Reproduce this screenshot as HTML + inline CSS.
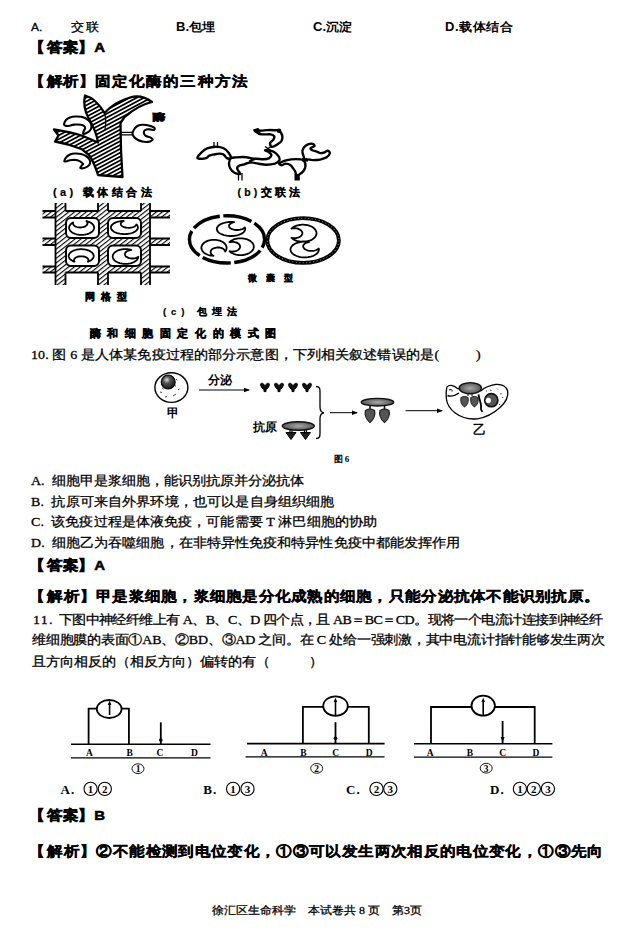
<!DOCTYPE html>
<html><head><meta charset="utf-8">
<style>
html,body{margin:0;padding:0;background:#fff;}
body{width:643px;height:948px;position:relative;overflow:hidden;}
.t{position:absolute;white-space:pre;line-height:1;font-family:"Liberation Serif",serif;color:#000;font-size:14px;-webkit-text-stroke:0.3px #000;transform:scaleY(0.92);transform-origin:0 0;}
.s{font-family:"Liberation Sans",sans-serif;}
.b{font-weight:bold;-webkit-text-stroke:0.35px #000;}
.lb{margin-left:-2px;margin-right:2px;}
svg{position:absolute;left:0;top:0;}
</style></head><body>
<div class="t s" style="left:31px;top:21.5px;font-size:12px;">A.</div>
<div class="t" style="left:71px;top:20.5px;font-size:13px;letter-spacing:1.5px;">交联</div>
<div class="t s" style="left:176px;top:20.5px;font-size:13px;font-weight:bold;-webkit-text-stroke:0;">B.包埋</div>
<div class="t s" style="left:313px;top:20.5px;font-size:13px;font-weight:bold;-webkit-text-stroke:0;">C.沉淀</div>
<div class="t s" style="left:445px;top:20.5px;font-size:13px;letter-spacing:0.6px;font-weight:bold;-webkit-text-stroke:0;">D.载体结合</div>

<div class="t s b" style="left:31px;top:40px;font-size:15px;letter-spacing:0.8px;-webkit-text-stroke:0.6px #000;transform:scaleY(0.9);transform-origin:0 0"><span class="lb">【</span>答案】A</div>
<div class="t s b" style="left:31px;top:74px;font-size:16px;transform:scaleY(0.9);transform-origin:0 0"><span class="lb">【</span>解析】<span style="letter-spacing:1.1px">固定化酶的三种方法</span></div>

<div class="t" style="left:31px;top:349px;font-size:14px;letter-spacing:0.12px">10. 图 6 是人体某免疫过程的部分示意图，下列相关叙述错误的是</div>
<div class="t" style="left:434.5px;top:349px;font-size:14px;">(</div><div class="t" style="left:476px;top:349px;font-size:14px;">)</div>

<div class="t" style="left:31px;top:475px;font-size:14px;">A.  细胞甲是浆细胞，能识别抗原并分泌抗体</div>
<div class="t" style="left:31px;top:496px;font-size:14px;letter-spacing:0.15px">B.  抗原可来自外界环境，也可以是自身组织细胞</div>
<div class="t" style="left:31px;top:516px;font-size:14px;letter-spacing:0.1px">C.  该免疫过程是体液免疫，可能需要 T 淋巴细胞的协助</div>
<div class="t" style="left:31px;top:536.5px;font-size:14px;letter-spacing:0.08px">D.  细胞乙为吞噬细胞，在非特异性免疫和特异性免疫中都能发挥作用</div>

<div class="t s b" style="left:31px;top:558px;font-size:15px;letter-spacing:0.8px;-webkit-text-stroke:0.6px #000;transform:scaleY(0.9);transform-origin:0 0"><span class="lb">【</span>答案】A</div>
<div class="t s b" style="left:31px;top:589px;font-size:16px;letter-spacing:0.26px;transform:scaleY(0.9);transform-origin:0 0"><span class="lb">【</span>解析】甲是浆细胞，浆细胞是分化成熟的细胞，只能分泌抗体不能识别抗原。</div>

<div class="t" style="left:33px;top:613.5px;font-size:14px;letter-spacing:-0.55px"><span style="letter-spacing:1.3px">11. </span>下图中神经纤维上有 A、B、C、D 四个点，且 AB＝BC＝CD。现将一个电流计连接到神经纤</div>
<div class="t" style="left:32px;top:634px;font-size:14px;letter-spacing:-0.22px">维细胞膜的表面①AB、②BD、③AD 之间。在 C 处给一强刺激，其中电流计指针能够发生两次</div>
<div class="t" style="left:32px;top:656px;font-size:14px;">且方向相反的（相反方向）偏转的有（           ）</div>


<div class="t s b" style="left:31px;top:807.5px;font-size:15px;letter-spacing:0.8px;-webkit-text-stroke:0.6px #000;transform:scaleY(0.9);transform-origin:0 0"><span class="lb">【</span>答案】B</div>
<div class="t s b" style="left:31px;top:844px;font-size:16px;letter-spacing:0.36px;transform:scaleY(0.9);transform-origin:0 0"><span class="lb">【</span>解析】②不能检测到电位变化，①③可以发生两次相反的电位变化，①③先向</div>

<div class="t" style="left:212px;top:905px;font-size:12px;">徐汇区生命科学    本试卷共 8 页    第3页</div>
<!-- FIGURES -->
<svg width="643" height="948" viewBox="0 0 643 948">
<defs>
  <pattern id="h1" patternUnits="userSpaceOnUse" width="3.4" height="3.4" patternTransform="rotate(-28)">
    <rect width="3.4" height="3.4" fill="#fff"/>
    <rect width="3.4" height="1.75" fill="#000"/>
  </pattern>
  <pattern id="h2" patternUnits="userSpaceOnUse" width="3.6" height="3.6" patternTransform="rotate(-38)">
    <rect width="3.6" height="3.6" fill="#fff"/>
    <rect width="3.6" height="1.1" fill="#000"/>
  </pattern>
  <path id="cr" d="M0,8 C1,13 7,15.5 12,15.5 C19,15.5 25,12 25.5,6 C25.5,2 23,0 20,0.5 C18,1 17.5,3 18.5,5 C19,8 16,10 12,10 C8,10 5,7.5 2,7 C1,7 0,7.5 0,8 Z" fill="#fff" stroke="#000" stroke-width="1.8" stroke-linejoin="round" vector-effect="non-scaling-stroke"/>
</defs>

<!-- ===== Fig (a) carrier ===== -->
<path fill="url(#h1)" stroke="#000" stroke-width="2.3" stroke-linejoin="round"
 d="M85,95.5 C91,97 98,102 104.5,113 C109,108 118,101 130,97.5 C137,95.5 144,96 152,102 C145,103.5 134,109 124.5,117 L120.5,123 L121,150 L122.5,177 L98,175 C96,168 93,161 89,155 L82,149.3 C74,146 64,143 55,141.5 L58.5,135.5 L54,129.5 C64,131 74,133 83,136 L98,142.5 C97,136 95,129 89,119 C85,112 83,104 85,95.5 Z"/>
<path d="M104.5,113 C106,118 106,124 105,130" fill="none" stroke="#000" stroke-width="1.2"/>
<!-- enzymes (a) -->
<g fill="#fff" stroke="#000" stroke-width="2.1" stroke-linejoin="round">
  <path d="M64.0,124.0 C64.2,123.1 65.0,121.1 66.0,120.0 C67.0,118.9 68.5,118.1 70.0,117.5 C71.5,116.9 73.2,116.6 75.0,116.5 C76.8,116.4 79.2,116.5 81.0,116.8 C82.8,117.1 84.5,117.6 86.0,118.5 C87.5,119.4 89.1,120.7 90.0,122.0 C90.9,123.3 91.5,125.1 91.5,126.5 C91.5,127.9 90.8,129.4 90.0,130.5 C89.2,131.6 87.7,132.4 86.5,133.0 C85.3,133.6 83.4,134.2 83.0,133.8 C82.6,133.4 83.6,131.5 84.0,130.5 C84.4,129.5 85.2,128.8 85.2,128.0 C85.2,127.2 84.7,126.5 84.0,126.0 C83.3,125.5 82.1,125.0 81.0,124.8 C79.9,124.5 78.7,124.5 77.5,124.5 C76.3,124.5 75.2,124.4 74.0,124.6 C72.8,124.8 71.6,125.3 70.5,125.5 C69.4,125.7 68.4,126.0 67.5,126.0 C66.6,126.0 65.6,125.8 65.0,125.5 C64.4,125.2 63.8,124.9 64.0,124.0 Z"/>
  <path d="M64.3,160.7 C64.5,159.9 65.5,158.0 66.5,157.0 C67.5,156.0 68.6,155.1 70.0,154.5 C71.4,153.9 73.2,153.6 75.0,153.5 C76.8,153.4 79.2,153.6 81.0,154.0 C82.8,154.4 84.6,155.1 86.0,156.0 C87.4,156.9 88.8,158.2 89.5,159.5 C90.2,160.8 90.3,162.3 90.0,163.5 C89.7,164.7 88.7,165.7 87.5,166.5 C86.3,167.3 84.2,168.0 83.0,168.2 C81.8,168.4 80.4,168.4 80.2,167.9 C80.0,167.4 81.5,165.9 82.0,165.2 C82.5,164.5 83.2,164.4 83.0,163.9 C82.8,163.4 81.8,162.6 81.0,162.0 C80.2,161.4 79.2,160.9 78.0,160.5 C76.8,160.1 75.3,159.9 74.0,159.8 C72.7,159.8 71.2,160.0 70.0,160.2 C68.8,160.4 67.8,161.0 67.0,161.2 C66.2,161.4 65.5,161.6 65.0,161.5 C64.5,161.4 64.0,161.4 64.3,160.7 Z"/>
  <path d="M132.5,133.5 C132.4,132.2 133.2,130.8 134.0,129.5 C134.8,128.2 136.1,126.8 137.4,126.0 C138.7,125.2 140.5,125.0 142.0,124.8 C143.5,124.6 144.9,124.8 146.3,125.0 C147.7,125.2 149.2,125.5 150.5,126.0 C151.8,126.5 153.8,127.1 154.4,127.8 C155.0,128.5 154.7,129.7 154.0,130.0 C153.3,130.3 151.2,129.5 150.0,129.4 C148.8,129.3 147.5,129.1 146.5,129.4 C145.5,129.7 144.4,130.4 144.0,131.2 C143.6,132.0 143.9,133.2 144.2,134.0 C144.5,134.8 145.0,135.4 146.0,136.0 C147.0,136.6 149.2,136.7 150.3,137.3 C151.4,137.9 152.9,139.1 152.8,139.8 C152.8,140.5 151.1,141.1 150.0,141.5 C148.9,141.9 147.3,142.0 146.0,142.0 C144.7,142.0 143.6,141.9 142.3,141.6 C141.0,141.3 139.3,140.7 138.0,140.0 C136.7,139.3 135.4,138.6 134.5,137.5 C133.6,136.4 132.6,134.8 132.5,133.5 Z"/>
</g>
<path d="M120.5,132.3 H132.5 M120.5,134.8 H132.5" stroke="#000" stroke-width="1.3"/>
<text x="153.5" y="120.5" font-family="Liberation Sans" font-weight="bold" font-size="11.5" stroke="#000" stroke-width="1.3" transform="translate(153.5,120.5) scale(1.05,0.8) translate(-153.5,-120.5)">酶</text>
<text x="53" y="195.5" font-family="Liberation Sans" font-weight="bold" font-size="11" letter-spacing="3.4" stroke="#000" stroke-width="0.2">(a) 载体结合法</text>

<!-- ===== Fig (b) cross-link chain ===== -->
<g fill="#fff" stroke="#000" stroke-width="2.4" stroke-linejoin="round">
  <path d="M197.4,157.6 C197.5,156.5 200.2,153.8 201.8,152.2 C203.4,150.6 204.8,149.2 207.2,148.3 C209.6,147.4 213.3,146.7 216.0,146.7 C218.7,146.7 221.4,147.2 223.6,148.3 C225.8,149.4 227.8,151.5 229.0,153.2 C230.2,154.9 231.2,157.5 230.8,158.3 C230.4,159.1 228.0,158.7 226.8,158.1 C225.6,157.5 224.9,155.3 223.6,154.6 C222.3,153.8 220.8,153.6 219.2,153.6 C217.6,153.6 215.4,154.2 213.8,154.5 C212.2,154.8 210.7,155.0 209.4,155.6 C208.1,156.2 207.4,157.7 206.0,158.2 C204.6,158.7 202.4,158.9 201.0,158.8 C199.6,158.7 197.3,158.7 197.4,157.6 Z"/>
  <path d="M230.8,158.3 C232.0,157.4 233.9,157.6 236.0,157.4 C238.1,157.2 240.7,156.9 243.2,157.0 C245.7,157.1 248.5,157.6 250.8,158.1 C253.2,158.6 255.4,159.2 257.3,159.8 C259.2,160.4 262.2,161.2 262.0,161.5 C261.8,161.8 258.2,161.4 256.0,161.6 C253.8,161.8 250.5,162.4 248.6,162.8 C246.7,163.2 245.8,163.9 244.3,164.3 C242.9,164.7 241.1,164.9 239.9,165.4 C238.7,165.9 237.5,166.8 237.2,167.6 C236.9,168.4 237.4,169.1 237.9,170.2 C238.4,171.2 240.6,173.5 240.0,173.9 C239.4,174.3 236.1,173.7 234.5,172.8 C232.9,171.9 231.2,170.1 230.3,168.5 C229.4,166.9 228.9,164.7 229.0,163.0 C229.1,161.3 229.6,159.2 230.8,158.3 Z"/>
  <path d="M254.4,130.3 C254.6,129.8 258.7,130.6 260.9,130.6 C263.1,130.6 265.0,130.2 267.4,130.1 C269.8,130.0 273.1,130.1 275.0,130.2 C276.9,130.3 277.6,129.7 278.8,130.5 C280.0,131.3 281.6,133.5 282.1,135.2 C282.6,136.9 282.4,139.1 281.6,140.7 C280.8,142.2 278.8,143.5 277.2,144.5 C275.6,145.5 273.0,147.2 271.8,146.9 C270.6,146.6 269.8,144.1 270.1,142.9 C270.4,141.7 272.7,140.7 273.4,139.6 C274.1,138.5 274.6,137.2 274.2,136.3 C273.8,135.4 272.4,134.7 270.7,134.4 C269.0,134.1 266.0,134.5 264.2,134.4 C262.4,134.3 261.4,134.5 259.8,133.8 C258.2,133.1 254.2,130.8 254.4,130.3 Z"/>
  <path d="M265.2,150.3 C265.9,150.2 270.7,150.5 272.9,151.4 C275.1,152.3 277.2,154.4 278.3,155.9 C279.4,157.4 279.9,159.0 279.4,160.3 C278.8,161.6 277.2,162.9 275.0,163.7 C272.8,164.4 269.0,164.8 266.3,164.8 C263.6,164.8 261.4,164.2 258.7,163.7 C256.0,163.2 250.6,162.4 250.0,161.6 C249.4,160.8 253.2,159.2 255.4,158.8 C257.6,158.4 260.8,159.4 263.1,159.3 C265.4,159.2 267.8,158.8 269.2,158.1 C270.6,157.3 271.5,155.9 271.4,154.8 C271.3,153.8 269.5,152.6 268.5,151.8 C267.5,151.1 264.5,150.4 265.2,150.3 Z"/>
  <path d="M279.4,163.3 C280.3,162.5 284.3,160.9 287.0,160.2 C289.7,159.5 293.0,159.1 295.7,159.1 C298.4,159.1 301.7,159.1 303.3,160.2 C304.9,161.3 305.5,163.9 305.5,165.7 C305.5,167.5 304.4,169.7 303.3,171.2 C302.2,172.7 300.1,173.8 299.0,174.6 C297.9,175.4 297.1,176.4 296.5,176.0 C295.9,175.6 295.9,173.2 295.4,172.0 C294.9,170.8 294.1,169.8 293.3,168.6 C292.5,167.4 291.5,165.8 290.3,165.0 C289.1,164.2 287.3,163.6 285.9,163.6 C284.4,163.6 282.7,165.2 281.6,165.2 C280.5,165.1 278.5,164.1 279.4,163.3 Z"/>
  <path d="M305.2,160.1 C304.4,159.4 303.8,156.9 303.3,155.4 C302.8,153.9 302.2,152.2 302.4,150.8 C302.6,149.4 303.4,148.2 304.3,147.1 C305.2,146.0 306.6,144.9 308.0,144.3 C309.4,143.8 311.5,143.5 312.6,143.8 C313.7,144.1 314.8,145.4 314.5,146.1 C314.2,146.8 311.3,147.3 310.8,148.0 C310.3,148.7 310.6,149.4 311.7,150.0 C312.8,150.6 315.9,151.3 317.3,151.8 C318.7,152.3 319.0,153.0 320.1,153.1 C321.2,153.2 322.6,153.0 323.8,152.6 C325.1,152.2 326.6,150.7 327.6,150.8 C328.6,150.9 330.1,152.0 329.9,153.1 C329.7,154.2 328.2,156.2 326.6,157.3 C325.0,158.4 322.4,159.1 320.1,159.6 C317.8,160.1 314.6,160.1 312.6,160.1 C310.6,160.1 309.2,159.4 308.0,159.4 C306.8,159.4 306.0,160.8 305.2,160.1 Z"/>
</g>
<path d="M265,146.5 L271,150.5 M265,150.5 L271,146.5" stroke="#000" stroke-width="1.5"/><path d="M302,158.5 L308,161 M302,161 L307,158.5" stroke="#000" stroke-width="1.4"/>
<g stroke="#000" stroke-width="1.3">
  <path d="M214,142 V146.5 M217.5,142 V146.5"/>
  <path d="M238.5,173 V180.5 M242,173 V180.5"/>
</g>
<path d="M294.5,174 H299.8 V180.5 H294.5 Z" fill="#000"/>
<circle cx="279" cy="130.8" r="2.3" fill="#000"/>
<path d="M254.2,130 L258,128.8 L260,131 L259,134.5 Z" fill="#000" stroke="#000" stroke-width="1.5" stroke-linejoin="round"/>
<text x="237.5" y="195.5" font-family="Liberation Sans" font-weight="bold" font-size="10.5" letter-spacing="3.2" stroke="#000" stroke-width="0.2">(b)交联法</text>

<!-- ===== Fig (c) grid ===== -->
<g>
  <rect x="42.5" y="211" width="127.5" height="6.5" fill="url(#h2)"/>
  <rect x="42.5" y="238.5" width="127.5" height="6.5" fill="url(#h2)"/>
  <rect x="42.5" y="266.5" width="127.5" height="6" fill="url(#h2)"/>
  <rect x="55.5" y="203" width="10" height="82" fill="url(#h2)"/>
  <rect x="98" y="203" width="10" height="82" fill="url(#h2)"/>
  <rect x="141" y="203" width="9" height="82" fill="url(#h2)"/>
  <rect x="65" y="217" width="76" height="50" fill="url(#h2)"/>
  <g stroke="#000" stroke-width="1.8" fill="none">
    <path d="M42.5,211 H55.5 M65.5,211 H98 M108,211 H141 M150,211 H170"/>
    <path d="M42.5,217.5 H55.5 M150,217.5 H170"/>
    <path d="M42.5,238.5 H55.5 M150,238.5 H170 M42.5,245 H55.5 M150,245 H170"/>
    <path d="M42.5,266.5 H55.5 M150,266.5 H170 M42.5,272.5 H55.5 M65.5,272.5 H98 M108,272.5 H141 M150,272.5 H170"/>
    <path d="M55.5,203 V285 M65.5,203 V211 M65.5,272.5 V285 M98,203 V211 M98,272.5 V285 M108,203 V211 M108,272.5 V285 M141,203 V211 M141,272.5 V285 M150,203 V285"/>
  </g>
  <g fill="#fff" stroke="#000" stroke-width="2">
    <rect x="66" y="218" width="33" height="20" rx="5"/>
    <rect x="108" y="218" width="33" height="20" rx="5"/>
    <rect x="66" y="245.5" width="33" height="20.5" rx="5"/>
    <rect x="108" y="245.5" width="33" height="20.5" rx="5"/>
  </g>
  <polygon points="86.4,221.0 87.6,221.4 88.7,221.8 89.7,222.2 90.7,222.7 91.5,223.3 92.3,223.9 92.9,224.6 93.4,225.3 93.8,226.0 94.0,226.8 94.1,227.5 94.1,228.3 93.9,229.0 93.6,229.7 93.1,230.5 92.6,231.1 91.9,231.8 91.1,232.4 90.2,232.9 89.2,233.4 88.1,233.8 87.0,234.2 85.8,234.5 84.5,234.7 83.2,234.8 81.9,234.9 80.6,234.9 79.3,234.8 78.0,234.6 76.8,234.4 75.6,234.0 74.5,233.6 73.5,233.2 72.5,232.7 71.7,232.1 70.9,231.5 70.3,230.8 69.8,230.1 69.4,229.4 69.2,228.6 69.1,227.9 69.1,227.1 69.3,226.4 69.6,225.7 70.1,224.9 70.6,224.3 71.3,223.6 72.1,223.0 73.0,222.5 73.2,222.4 73.0,223.1 73.0,223.8 73.3,224.4 73.7,225.1 74.3,225.7 75.0,226.2 75.9,226.6 76.9,227.0 78.0,227.3 79.1,227.4 80.3,227.5 81.5,227.4 82.7,227.2 83.7,227.0 84.7,226.6 85.6,226.1 86.3,225.6 86.9,225.0 87.3,224.3 87.5,223.7 87.5,223.0 87.3,222.3 86.9,221.7" fill="#fff" stroke="#000" stroke-width="1.8" stroke-linejoin="round"/>
  <polygon points="136.4,224.5 137.0,225.1 137.4,225.7 137.7,226.4 137.9,227.1 137.9,227.8 137.8,228.5 137.5,229.2 137.0,229.8 136.5,230.4 135.8,231.0 135.0,231.6 134.0,232.1 133.0,232.6 131.9,233.0 130.6,233.4 129.3,233.6 128.0,233.9 126.6,234.0 125.2,234.1 123.8,234.1 122.4,234.0 121.0,233.9 119.7,233.7 118.4,233.4 117.1,233.1 116.0,232.7 114.9,232.2 114.0,231.7 113.1,231.1 112.4,230.5 111.8,229.9 111.4,229.3 111.1,228.6 110.9,227.9 110.9,227.2 111.0,226.5 111.3,225.8 111.8,225.2 112.3,224.6 113.0,224.0 113.8,223.4 114.8,222.9 115.8,222.4 116.9,222.0 118.2,221.6 119.5,221.4 120.8,221.1 122.2,221.0 123.6,220.9 123.8,220.9 122.9,221.3 122.1,221.8 121.5,222.4 121.0,223.0 120.8,223.6 120.8,224.2 121.0,224.8 121.3,225.4 121.9,226.0 122.7,226.5 123.6,226.9 124.7,227.3 125.8,227.5 127.1,227.7 128.3,227.8 129.6,227.8 130.9,227.6 132.1,227.4 133.2,227.1 134.1,226.7 135.0,226.2 135.6,225.6 136.1,225.1" fill="#fff" stroke="#000" stroke-width="1.8" stroke-linejoin="round"/>
  <polygon points="74.5,261.7 73.4,261.3 72.4,260.9 71.6,260.3 70.8,259.8 70.1,259.1 69.6,258.5 69.2,257.8 68.9,257.1 68.7,256.4 68.7,255.7 68.8,255.0 69.1,254.3 69.5,253.6 70.0,253.0 70.7,252.3 71.4,251.8 72.3,251.2 73.2,250.8 74.3,250.3 75.4,250.0 76.6,249.7 77.9,249.4 79.1,249.3 80.4,249.2 81.7,249.2 83.0,249.3 84.3,249.4 85.6,249.6 86.8,249.9 87.9,250.3 89.0,250.7 90.0,251.1 90.8,251.7 91.6,252.2 92.3,252.9 92.8,253.5 93.2,254.2 93.5,254.9 93.7,255.6 93.7,256.3 93.6,257.0 93.3,257.7 92.9,258.4 92.4,259.0 91.7,259.7 91.0,260.2 90.1,260.8 89.2,261.2 88.1,261.7 87.9,261.7 88.3,261.1 88.4,260.5 88.4,259.8 88.2,259.2 87.8,258.6 87.2,258.0 86.5,257.5 85.6,257.1 84.6,256.7 83.5,256.5 82.4,256.3 81.2,256.3 80.0,256.3 78.9,256.5 77.8,256.7 76.8,257.1 75.9,257.5 75.2,258.0 74.6,258.6 74.2,259.2 74.0,259.8 74.0,260.5 74.1,261.1" fill="#fff" stroke="#000" stroke-width="1.8" stroke-linejoin="round"/>
  <polygon points="138.3,256.8 138.2,257.6 137.9,258.4 137.5,259.1 137.0,259.8 136.3,260.5 135.5,261.1 134.6,261.7 133.6,262.2 132.6,262.7 131.4,263.1 130.2,263.4 128.9,263.6 127.6,263.8 126.3,263.9 124.9,263.9 123.6,263.8 122.3,263.7 121.0,263.4 119.8,263.1 118.6,262.7 117.5,262.3 116.5,261.8 115.6,261.2 114.8,260.6 114.1,259.9 113.6,259.2 113.2,258.5 112.9,257.7 112.7,257.0 112.7,256.2 112.8,255.4 113.1,254.6 113.5,253.9 114.0,253.2 114.7,252.5 115.5,251.9 116.4,251.3 117.4,250.8 118.4,250.3 119.6,249.9 120.8,249.6 122.1,249.4 123.4,249.2 124.7,249.1 126.1,249.1 127.4,249.2 128.7,249.3 130.0,249.6 131.2,249.9 131.4,249.9 130.2,250.1 129.1,250.4 128.1,250.7 127.1,251.2 126.3,251.7 125.7,252.3 125.3,253.0 125.0,253.6 125.0,254.3 125.1,255.0 125.4,255.7 125.9,256.4 126.6,256.9 127.5,257.4 128.5,257.9 129.5,258.2 130.7,258.4 131.9,258.5 133.1,258.5 134.3,258.4 135.4,258.1 136.5,257.8 137.5,257.3" fill="#fff" stroke="#000" stroke-width="1.8" stroke-linejoin="round"/>
</g>
<text x="84.5" y="299.5" font-family="Liberation Sans" font-weight="bold" font-size="9.5" letter-spacing="6" stroke="#000" stroke-width="0.5">网格型</text>

<!-- ===== microcapsule ===== -->
<ellipse cx="227" cy="239.4" rx="37.6" ry="23.6" fill="none" stroke="#000" stroke-width="3.4" stroke-dasharray="28.9 3.5" stroke-dashoffset="20.15"/>
<ellipse cx="303.1" cy="240.5" rx="35.8" ry="22.3" fill="none" stroke="#000" stroke-width="3.8"/>
<ellipse cx="303.1" cy="240.5" rx="35.8" ry="22.3" fill="none" stroke="#fff" stroke-width="0.6" stroke-dasharray="1 2.5"/>
<polygon points="244.9,227.5 245.1,228.2 245.2,228.9 245.1,229.7 244.9,230.4 244.5,231.1 244.0,231.8 243.4,232.4 242.6,233.1 241.6,233.6 240.6,234.2 239.4,234.6 238.2,235.0 236.9,235.4 235.5,235.6 234.1,235.8 232.6,236.0 231.1,236.0 229.6,236.0 228.2,235.9 226.7,235.7 225.3,235.4 224.0,235.1 222.8,234.7 221.6,234.2 220.5,233.7 219.6,233.2 218.8,232.6 218.1,231.9 217.5,231.2 217.1,230.5 216.9,229.8 216.8,229.1 216.9,228.3 217.1,227.6 217.5,226.9 218.0,226.2 218.6,225.6 219.4,224.9 220.4,224.4 221.4,223.8 222.6,223.4 223.8,223.0 225.1,222.6 226.5,222.4 227.9,222.2 229.4,222.0 230.9,222.0 232.4,222.0 233.8,222.1 234.1,222.2 232.9,222.5 231.8,222.9 230.9,223.4 230.1,223.9 229.5,224.5 229.1,225.1 229.0,225.8 229.1,226.5 229.3,227.1 229.8,227.7 230.5,228.3 231.4,228.8 232.4,229.2 233.6,229.6 234.8,229.8 236.2,230.0 237.5,230.0 238.8,229.9 240.1,229.7 241.3,229.4 242.5,229.1 243.4,228.6 244.2,228.1" fill="#fff" stroke="#000" stroke-width="1.8" stroke-linejoin="round"/>
<polygon points="213.5,255.8 212.1,255.7 210.8,255.5 209.6,255.3 208.4,255.0 207.2,254.5 206.2,254.1 205.2,253.5 204.3,252.9 203.5,252.2 202.8,251.5 202.3,250.7 201.9,249.9 201.6,249.1 201.4,248.3 201.4,247.5 201.5,246.6 201.8,245.8 202.2,245.0 202.7,244.2 203.4,243.5 204.1,242.8 205.0,242.2 206.0,241.6 207.0,241.1 208.2,240.7 209.4,240.4 210.6,240.1 211.9,239.9 213.2,239.8 214.5,239.8 215.9,239.9 217.2,240.1 218.4,240.3 219.6,240.6 220.8,241.1 221.8,241.5 222.8,242.1 223.7,242.7 224.5,243.4 225.2,244.1 225.7,244.9 226.1,245.7 226.4,246.5 226.6,247.3 226.6,248.1 226.5,249.0 226.2,249.8 225.8,250.6 225.3,251.4 225.2,251.5 224.9,250.8 224.5,250.0 223.9,249.4 223.1,248.8 222.2,248.3 221.1,247.9 220.0,247.7 218.9,247.5 217.7,247.5 216.5,247.5 215.3,247.8 214.3,248.1 213.3,248.5 212.4,249.0 211.7,249.6 211.2,250.3 210.8,251.0 210.6,251.8 210.6,252.6 210.8,253.3 211.3,254.0 211.8,254.7 212.6,255.3" fill="#fff" stroke="#000" stroke-width="1.8" stroke-linejoin="round"/>
<polygon points="229.5,242.2 230.3,241.5 231.2,240.8 232.2,240.2 233.3,239.7 234.5,239.2 235.8,238.9 237.1,238.6 238.4,238.4 239.8,238.3 241.2,238.3 242.6,238.4 243.9,238.6 245.2,238.8 246.5,239.2 247.7,239.6 248.8,240.1 249.9,240.7 250.8,241.4 251.6,242.1 252.3,242.8 252.9,243.6 253.3,244.5 253.6,245.3 253.8,246.2 253.8,247.1 253.7,247.9 253.4,248.8 253.0,249.6 252.4,250.4 251.7,251.2 250.9,251.9 250.0,252.6 249.0,253.2 247.9,253.7 246.7,254.2 245.4,254.5 244.1,254.8 242.8,255.0 241.4,255.1 240.0,255.1 238.6,255.0 237.3,254.8 236.0,254.6 234.7,254.2 233.5,253.8 232.4,253.3 231.3,252.7 230.4,252.0 229.6,251.3 229.5,251.2 230.7,251.4 231.9,251.6 233.2,251.5 234.4,251.4 235.6,251.1 236.7,250.8 237.6,250.3 238.5,249.7 239.2,249.0 239.7,248.3 240.0,247.5 240.1,246.7 240.0,245.9 239.7,245.1 239.2,244.4 238.5,243.7 237.6,243.1 236.7,242.6 235.6,242.3 234.4,242.0 233.2,241.9 231.9,241.8 230.7,242.0" fill="#fff" stroke="#000" stroke-width="1.8" stroke-linejoin="round"/>
<polygon points="291.4,228.6 292.3,227.9 293.2,227.2 294.2,226.6 295.4,226.1 296.6,225.7 297.9,225.3 299.3,225.0 300.7,224.8 302.1,224.7 303.5,224.7 304.9,224.8 306.3,225.0 307.7,225.2 309.0,225.6 310.2,226.0 311.4,226.5 312.4,227.1 313.4,227.8 314.2,228.5 315.0,229.3 315.6,230.1 316.0,230.9 316.3,231.8 316.5,232.7 316.5,233.6 316.4,234.5 316.1,235.3 315.6,236.2 315.1,237.0 314.4,237.8 313.5,238.5 312.6,239.2 311.6,239.8 310.4,240.3 309.2,240.7 307.9,241.1 306.5,241.4 305.1,241.6 303.7,241.7 302.3,241.7 300.9,241.6 299.5,241.4 298.1,241.2 296.8,240.8 295.6,240.4 294.4,239.9 293.4,239.3 292.4,238.6 291.6,237.9 291.4,237.8 292.7,238.0 293.9,238.1 295.2,238.1 296.5,238.0 297.7,237.7 298.8,237.3 299.9,236.8 300.7,236.2 301.4,235.5 301.9,234.8 302.3,234.0 302.4,233.2 302.3,232.4 301.9,231.6 301.4,230.9 300.7,230.2 299.9,229.6 298.8,229.1 297.7,228.7 296.5,228.4 295.2,228.3 293.9,228.3 292.7,228.4" fill="#fff" stroke="#000" stroke-width="1.8" stroke-linejoin="round"/>
<polygon points="318.8,248.5 318.9,249.3 318.9,250.1 318.7,250.9 318.3,251.7 317.8,252.5 317.2,253.3 316.4,254.0 315.5,254.6 314.5,255.2 313.3,255.8 312.1,256.2 310.8,256.6 309.4,256.9 308.0,257.2 306.6,257.3 305.1,257.4 303.6,257.4 302.1,257.3 300.7,257.1 299.3,256.8 297.9,256.4 296.7,256.0 295.5,255.5 294.4,254.9 293.4,254.3 292.6,253.6 291.9,252.9 291.3,252.1 290.9,251.3 290.6,250.5 290.5,249.7 290.5,248.9 290.7,248.1 291.1,247.3 291.6,246.5 292.2,245.7 293.0,245.0 293.9,244.4 294.9,243.8 296.1,243.2 297.3,242.8 298.6,242.4 300.0,242.1 301.4,241.8 302.8,241.7 304.3,241.6 305.8,241.6 307.3,241.7 308.7,241.9 309.0,242.0 307.7,242.3 306.6,242.7 305.6,243.1 304.7,243.7 304.0,244.4 303.5,245.1 303.3,245.8 303.2,246.5 303.4,247.3 303.8,248.0 304.4,248.7 305.1,249.3 306.1,249.8 307.2,250.3 308.4,250.6 309.7,250.8 311.0,250.9 312.3,250.9 313.7,250.8 314.9,250.5 316.1,250.1 317.1,249.7 318.0,249.1" fill="#fff" stroke="#000" stroke-width="1.8" stroke-linejoin="round"/>
<text x="248" y="281" font-family="Liberation Sans" font-weight="bold" font-size="9" letter-spacing="9" stroke="#000" stroke-width="0.2">微囊型</text>
<text x="163" y="315" font-family="Liberation Sans" font-weight="bold" font-size="9.5" letter-spacing="4.9" stroke="#000" stroke-width="0.2">(c) 包埋法</text>
<text x="89.5" y="336.5" font-family="Liberation Sans" font-weight="bold" font-size="10.5" letter-spacing="6.6" stroke="#000" stroke-width="0.5">酶和细胞固定化的模式图</text>
<!-- ===== Figure 6 ===== -->
<defs>
  <radialGradient id="gN" cx="0.4" cy="0.35" r="0.7">
    <stop offset="0" stop-color="#ddd"/><stop offset="0.35" stop-color="#555"/><stop offset="1" stop-color="#111"/>
  </radialGradient>
  <radialGradient id="gG" cx="0.5" cy="0.5" r="0.6">
    <stop offset="0" stop-color="#aaa"/><stop offset="1" stop-color="#444"/>
  </radialGradient>
  <marker id="ah" markerWidth="6" markerHeight="6" refX="5" refY="3" orient="auto" markerUnits="userSpaceOnUse">
    <path d="M0,0.8 L6,3 L0,5.2 Z" fill="#000"/>
  </marker>
  <g id="yab"><path d="M-4.3,-3.2 C-4.8,-0.5 -2.5,2 0,3.2 C2.5,2 4.8,-0.5 4.3,-3.2 C3.3,-4.3 1.6,-3.8 0,-1.2 C-1.6,-3.8 -3.3,-4.3 -4.3,-3.2 Z M-1,2.5 V4.6 H1 V2.5 Z" fill="#111" stroke="#000" stroke-width="1" stroke-linejoin="round"/></g>
  <g id="tri"><path d="M-5,0 H5 L0,7 Z" fill="#222" stroke="#000" stroke-width="1"/><path d="M-1,-4 V1 M1,-4 V1" stroke="#000" stroke-width="1.2"/></g>
  <g id="blob"><path d="M-4.5,-5 C-2,-6.5 2,-6.5 4.5,-5 C5.5,-1 4,4 0,7 C-4,4 -5.5,-1 -4.5,-5 Z" fill="#555" stroke="#222" stroke-width="1.3"/></g>
</defs>
<ellipse cx="171.4" cy="387.6" rx="16.5" ry="14.8" fill="#fff" stroke="#000" stroke-width="1.4"/>
<circle cx="168.2" cy="382" r="7" fill="url(#gN)" stroke="#000" stroke-width="1.1"/>
<g stroke="#333" stroke-width="0.9" fill="none">
  <path d="M160,392 l2,0.5 M165,397 l2,-0.5 M173,396 l3,-2 M178,390 l1.5,-1 M176,379 l1,1.5 M162,388 l1.5,1 M175,385 l0.5,1.5"/>
</g>
<text x="166.5" y="416.5" font-family="Liberation Serif" font-weight="bold" font-size="12">甲</text>
<text x="207.5" y="383.8" font-family="Liberation Serif" font-weight="bold" font-size="12">分泌</text>
<path d="M199,390 H249" stroke="#000" stroke-width="1" marker-end="url(#ah)"/>
<use href="#yab" x="265" y="387"/>
<use href="#yab" x="279" y="387"/>
<use href="#yab" x="293" y="387"/>
<use href="#yab" x="307" y="387"/>
<path d="M316,386.5 C320,386.5 320,389 320,392 V407 C320,411 321,412.5 324,412.8 C321,413 320,414.5 320,418.5 V433 C320,436 320,438.5 316,438.5" fill="none" stroke="#000" stroke-width="1.3"/>
<text x="252.5" y="431" font-family="Liberation Serif" font-weight="bold" font-size="12">抗原</text>
<use href="#tri" x="291" y="432.5"/>
<use href="#tri" x="305.5" y="432.5"/>
<ellipse cx="298.3" cy="426" rx="16" ry="4.3" fill="url(#gG)" stroke="#111" stroke-width="1.4"/>
<path d="M330,412.7 H357" stroke="#000" stroke-width="1" marker-end="url(#ah)"/>
<path d="M370,404 V410 M384.5,404 V410" stroke="#111" stroke-width="1.6"/>
<use href="#blob" x="370" y="415.5"/>
<use href="#blob" x="384.5" y="415.5"/>
<ellipse cx="377.5" cy="402.2" rx="16.2" ry="3.8" fill="url(#gG)" stroke="#111" stroke-width="1.4"/>
<path d="M405.6,410.7 H442" stroke="#000" stroke-width="1" marker-end="url(#ah)"/>
<!-- macrophage -->
<path d="M447,387 C449,384.5 453,384.5 457.5,388.5 L470,389 L481,390.8 C484,388 489,385.5 496,384.4 C502,384 506,386 507.7,391 C508.5,396 506,402 500,407.5 C494,413 486,417.5 477.3,418.8 C470,419.5 462,418 455.2,413 C450,409 447,404 446.4,399 C446,394 446,390 447,387 Z" fill="#fff" stroke="#000" stroke-width="1.3"/>
<path d="M447.5,395.5 C450,396.5 454,396.5 459,393" fill="none" stroke="#000" stroke-width="1.4"/>
<path d="M449,390 C451,389 453,390 452,391.5" fill="none" stroke="#000" stroke-width="1"/>
<use href="#blob" transform="translate(464.5,401.5) scale(0.78)"/>
<use href="#blob" transform="translate(474.4,401.5) scale(0.78)"/>
<path d="M468,394 V396 M472,394 V396" stroke="#222" stroke-width="1.2"/>
<ellipse cx="470.3" cy="388.2" rx="11.1" ry="5.6" fill="url(#gG)" stroke="#111" stroke-width="1.4"/>
<path d="M478.5,394.3 C479,400 482,404 481,408 C480.5,410 482,411 482.6,411.8" fill="none" stroke="#000" stroke-width="1.8"/>
<circle cx="491.3" cy="400.2" r="6.6" fill="#555" stroke="#111" stroke-width="1.6"/>
<circle cx="488.3" cy="400.4" r="2.6" fill="#fff"/>
<g stroke="#333" stroke-width="0.9"><path d="M490,390 l1.5,0.5 M497,388.5 l1,1 M501,393 l0,1.5 M503,397 l-0.5,1 M499,405 l1,-1 M486,391 l1,0"/></g>
<text x="472.8" y="433.6" font-family="Liberation Serif" font-size="12.5" stroke="#000" stroke-width="0.4">乙</text>
<text x="333.5" y="462" font-family="Liberation Serif" font-weight="bold" font-size="9">图 6</text>

<!-- ===== Nerve diagrams ===== -->
<g stroke="#000" fill="none">
  <!-- D1 -->
  <path d="M71,744.2 H210.5" stroke-width="1.6"/>
  <path d="M71,757.9 H210.5" stroke-width="1.4"/>
  <path d="M88.6,744.2 V708.7 H96.8 M121.6,708.7 H128.9 V744.2" stroke-width="1.8"/>
  <ellipse cx="109.2" cy="709" rx="12.4" ry="9" stroke-width="1.8"/>
  <path d="M109.6,715 V703" stroke-width="1.6"/>
  <path d="M160.8,722.3 V744" stroke-width="1.8"/>
  <!-- D2 -->
  <path d="M247,743.6 H384.6" stroke-width="1.8"/>
  <path d="M245.6,756.9 H384.6" stroke-width="1.4"/>
  <path d="M302.9,743.6 V706.8 H323.2 M347.7,706.8 H368.8 V743.6" stroke-width="1.8"/>
  <ellipse cx="335.5" cy="706.1" rx="12.25" ry="9.8" stroke-width="1.8"/>
  <path d="M335.5,715.2 V700.5" stroke-width="1.6"/>
  <path d="M335.5,722.2 V743.6" stroke-width="1.8"/>
  <!-- D3 -->
  <path d="M414,743.8 H552.4" stroke-width="1.6"/>
  <path d="M414,757.1 H552.4" stroke-width="1.4"/>
  <path d="M431,743.8 V707 H471.5 M494.9,707 H534.7 V743.8" stroke-width="1.8"/>
  <ellipse cx="483.2" cy="705.7" rx="11.7" ry="10" stroke-width="1.8"/>
  <path d="M483.2,715 V700" stroke-width="1.6"/>
  <path d="M502.6,721 V743.8" stroke-width="1.8"/>
</g>
<g fill="#000">
  <circle cx="160.8" cy="740" r="1.8"/><path d="M107.8,705 L109.6,700.5 L111.4,705 Z"/>
  <circle cx="335.5" cy="738.3" r="1.8"/><path d="M333.7,702 L335.5,697.8 L337.3,702 Z"/>
  <path d="M500.6,737 L502.6,742 L504.6,737 Z"/><path d="M481.4,702 L483.2,697.8 L485,702 Z"/>
</g>
<g font-family="Liberation Serif" font-weight="bold" font-size="9.5" text-anchor="middle">
  <text x="89.4" y="756">A</text><text x="129.7" y="756">B</text><text x="160" y="756">C</text><text x="194.4" y="756">D</text>
  <text x="264.2" y="755.8">A</text><text x="303.3" y="755.8">B</text><text x="335.8" y="755.8">C</text><text x="369.3" y="755.8">D</text>
  <text x="430.2" y="756">A</text><text x="470" y="756">B</text><text x="502.6" y="756">C</text><text x="536" y="756">D</text>
</g>
<ellipse cx="138" cy="768.7" rx="6" ry="4.9" fill="none" stroke="#000" stroke-width="0.9"/><text x="138" y="772.0" text-anchor="middle" font-family="Liberation Serif" font-weight="bold" font-size="9.5">1</text>
<ellipse cx="316.7" cy="768.4" rx="6" ry="4.9" fill="none" stroke="#000" stroke-width="0.9"/><text x="316.7" y="771.7" text-anchor="middle" font-family="Liberation Serif" font-weight="bold" font-size="9.5">2</text>
<ellipse cx="486.2" cy="768.2" rx="6" ry="4.9" fill="none" stroke="#000" stroke-width="0.9"/><text x="486.2" y="771.5" text-anchor="middle" font-family="Liberation Serif" font-weight="bold" font-size="9.5">3</text>
<text x="60.4" y="794.2" font-family="Liberation Serif" font-weight="bold" font-size="13" letter-spacing="1.2">A.</text>
<ellipse cx="90.6" cy="788.9" rx="6.6" ry="6.6" fill="none" stroke="#000" stroke-width="1.1"/><text x="90.6" y="792.8" text-anchor="middle" font-family="Liberation Serif" font-weight="bold" font-size="11">1</text>
<ellipse cx="104.8" cy="788.9" rx="6.6" ry="6.6" fill="none" stroke="#000" stroke-width="1.1"/><text x="104.8" y="792.8" text-anchor="middle" font-family="Liberation Serif" font-weight="bold" font-size="11">2</text>
<text x="203.2" y="794.2" font-family="Liberation Serif" font-weight="bold" font-size="13" letter-spacing="1.2">B.</text>
<ellipse cx="233.1" cy="788.9" rx="6.6" ry="6.6" fill="none" stroke="#000" stroke-width="1.1"/><text x="233.1" y="792.8" text-anchor="middle" font-family="Liberation Serif" font-weight="bold" font-size="11">1</text>
<ellipse cx="247.5" cy="788.9" rx="6.6" ry="6.6" fill="none" stroke="#000" stroke-width="1.1"/><text x="247.5" y="792.8" text-anchor="middle" font-family="Liberation Serif" font-weight="bold" font-size="11">3</text>
<text x="346" y="794.2" font-family="Liberation Serif" font-weight="bold" font-size="13" letter-spacing="1.2">C.</text>
<ellipse cx="376.5" cy="788.9" rx="6.6" ry="6.6" fill="none" stroke="#000" stroke-width="1.1"/><text x="376.5" y="792.8" text-anchor="middle" font-family="Liberation Serif" font-weight="bold" font-size="11">2</text>
<ellipse cx="390.3" cy="788.9" rx="6.6" ry="6.6" fill="none" stroke="#000" stroke-width="1.1"/><text x="390.3" y="792.8" text-anchor="middle" font-family="Liberation Serif" font-weight="bold" font-size="11">3</text>
<text x="490" y="794.2" font-family="Liberation Serif" font-weight="bold" font-size="13" letter-spacing="1.2">D.</text>
<ellipse cx="519.9" cy="788.9" rx="6.6" ry="6.6" fill="none" stroke="#000" stroke-width="1.1"/><text x="519.9" y="792.8" text-anchor="middle" font-family="Liberation Serif" font-weight="bold" font-size="11">1</text>
<ellipse cx="533.8" cy="788.9" rx="6.6" ry="6.6" fill="none" stroke="#000" stroke-width="1.1"/><text x="533.8" y="792.8" text-anchor="middle" font-family="Liberation Serif" font-weight="bold" font-size="11">2</text>
<ellipse cx="547.9" cy="788.9" rx="6.6" ry="6.6" fill="none" stroke="#000" stroke-width="1.1"/><text x="547.9" y="792.8" text-anchor="middle" font-family="Liberation Serif" font-weight="bold" font-size="11">3</text>
</svg>
</body></html>
